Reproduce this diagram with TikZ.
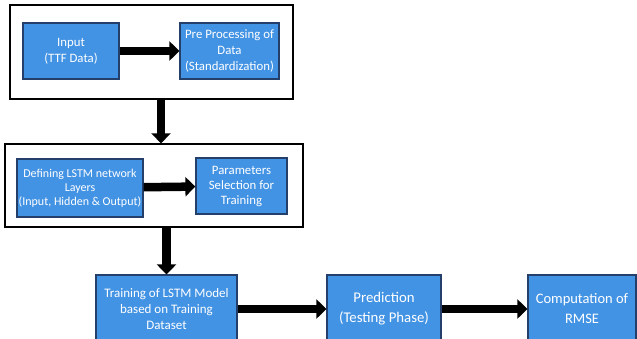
\documentclass[tikz,border=0pt]{standalone}
\usepackage{fontspec}
\setmainfont{Carlito}
\usetikzlibrary{arrows.meta,positioning,calc}
\definecolor{colBox}{HTML}{4393E4}
\definecolor{colEdge}{HTML}{24406A}
\tikzset{
  sbox/.style={draw=colEdge,line width=1.2pt,fill=colBox,text=white,align=center,
    inner sep=1pt,font=\fontsize{12.8}{16}\selectfont},
  frame/.style={draw=black,line width=1.3pt,fill=white},
  barr/.style={-{Triangle[length=10pt,width=19pt]},line width=8.5pt,draw=black},
}

\begin{document}
\begin{tikzpicture}[x=1pt,y=-1pt]
      \clip (0,0) rectangle (637,338);
      % first stage
      \node[frame,minimum width=283pt,minimum height=94pt] (f1) at (151.5,52) {};
      \node[sbox,minimum width=96pt,minimum height=56pt] (in) at (71,51)
        {Input\\(TTF Data)};
      \node[sbox,minimum width=99pt,minimum height=56pt] (pre) at (229.5,51)
        {Pre Processing of\\Data\\(Standardization)};
      \draw[barr] (in)--(pre);
      % second stage
      \node[frame,minimum width=298pt,minimum height=83pt] (f2) at (154,185.5) {};
      \node[sbox,minimum width=126pt,minimum height=58pt,
        font=\fontsize{12}{14}\selectfont] (lay) at (80,188)
        {Defining LSTM network\\Layers\\(Input, Hidden \& Output)};
      \node[sbox,minimum width=91pt,minimum height=56pt,
        font=\fontsize{12.8}{15}\selectfont] (par) at (241.5,186)
        {Parameters\\Selection for\\Training};
      \draw[barr] (lay)--(par);
      \draw[barr] ([xshift=9.5pt]f1.south)--([xshift=7pt]f2.north);
      % bottom row
      \node[sbox,minimum width=141pt,minimum height=68pt,
        font=\fontsize{13}{16}\selectfont] (trn) at (166.5,309)
        {Training of LSTM Model\\based on Training\\Dataset};
      \node[sbox,minimum width=114pt,minimum height=68pt,
        font=\fontsize{14.8}{20}\selectfont] (prd) at (384,309)
        {Prediction\\(Testing Phase)};
      \node[sbox,minimum width=108pt,minimum height=68pt,
        font=\fontsize{14.5}{20}\selectfont] (rms) at (582,309)
        {Computation of\\RMSE};
      \draw[barr] (trn.north |- f2.south)--(trn.north);
      \draw[barr] (trn)--(prd);
      \draw[barr] (prd)--(rms);
    \end{tikzpicture}
\end{document}
